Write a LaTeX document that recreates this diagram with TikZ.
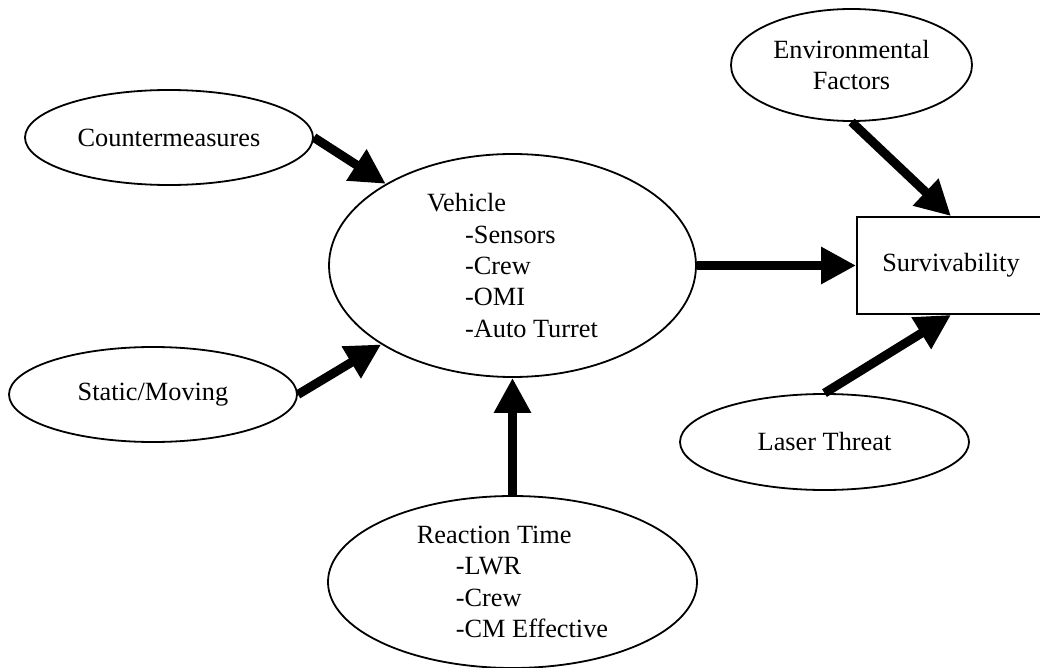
\documentclass[tikz,border=0pt]{standalone}
\usepackage{fontspec}
\setmainfont{Liberation Serif}
\usetikzlibrary{arrows.meta,shapes.geometric}
\tikzset{
  oval/.style={ellipse, draw, line width=1.8bp, inner sep=0pt, font=\fontsize{26.4pt}{31.5pt}\selectfont},
  box/.style={rectangle, draw, line width=1.8bp, inner sep=0pt, font=\fontsize{26.4pt}{31.5pt}\selectfont},
  flow/.style={line width=9bp, -{Triangle[length=35bp,width=35bp]}}
}
\begin{document}
\begin{tikzpicture}[x=1bp,y=-1bp]
\useasboundingbox (0,0) rectangle (1040,668);
\node[oval, minimum width=288bp, minimum height=95bp] (cm) at (169,137.5) {Countermeasures};
\node[oval, minimum width=241bp, minimum height=112bp, align=center] (env) at (851.5,65) {Environmental\\Factors};
\node[oval, minimum width=367bp, minimum height=223bp, align=left] (veh) at (512.5,265.5)
  {Vehicle\\\hspace*{38bp}-Sensors\\\hspace*{38bp}-Crew\\\hspace*{38bp}-OMI\\\hspace*{38bp}-Auto Turret};
\node[box, minimum width=188bp, minimum height=97bp] (surv) at (951,265.5) {Survivability};
\node[oval, minimum width=288bp, minimum height=95bp] (sm) at (153,394.5) {Static/Moving};
\node[oval, minimum width=289bp, minimum height=96bp] (laser) at (824.5,442) {Laser Threat};
\node[oval, minimum width=369bp, minimum height=172bp, align=left] (rt) at (512.5,582)
  {Reaction Time\\\hspace*{39bp}-LWR\\\hspace*{39bp}-Crew\\\hspace*{39bp}-CM Effective};
\draw[flow] (cm.east) -- (veh);
\draw[flow] (sm.east) -- (veh);
\draw[flow] (rt.north) -- (veh.south);
\draw[flow] (veh.east) -- (surv.west);
\draw[flow] (env.south) -- (surv.north);
\draw[flow] (laser.north) -- (surv.south);
\end{tikzpicture}
\end{document}
